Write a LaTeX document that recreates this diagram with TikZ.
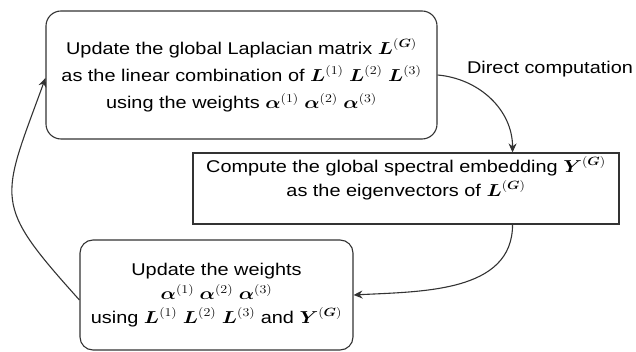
\documentclass[tikz,border=0pt]{standalone}
\usepackage{amsmath}
\usepackage{graphicx}
\usepackage{fontspec}
\setmainfont{Liberation Sans}
\DeclareMathSizes{17}{17}{13}{10}
\usetikzlibrary{arrows.meta,calc}
\newcommand{\bL}{\boldsymbol{L}}
\newcommand{\bY}{\boldsymbol{Y}}
\newcommand{\bal}{\boldsymbol{\alpha}}
\newcommand{\bG}{\boldsymbol{G}}
\newcommand{\wl}[1]{\scalebox{1.17}[1]{#1}}
\begin{document}
\begin{tikzpicture}[x=1pt,y=1pt,
  font=\fontsize{17}{24}\selectfont,
  roundbox/.style={draw=black!80, line width=1.1pt, rounded corners=15pt, align=center, inner sep=0pt},
  sqbox/.style={draw=black!80, line width=1.1pt, align=center, inner sep=0pt},
  conn/.style={draw=black!80, line width=1.1pt, -{Stealth[length=9pt,width=8pt]}}]
\useasboundingbox (0,0) rectangle (636,-352);
\node[roundbox, minimum width=391pt, minimum height=128pt] (b1) at (241.5,-75)
  {\wl{Update the global Laplacian matrix $\bL^{(\bG)}$}\\[3pt]
   \wl{as the linear combination of $\bL^{(1)}\ \bL^{(2)}\ \bL^{(3)}$}\\[3pt]
   \wl{using the weights $\bal^{(1)}\ \bal^{(2)}\ \bal^{(3)}$}};
\node[sqbox, minimum width=426pt, minimum height=71pt] (b2) at (406,-188.5)
  {\wl{Compute the global spectral embedding $\bY^{(\bG)}$}\\
   \wl{as the eigenvectors of $\bL^{(\bG)}$}\\ \mbox{}};
\node[roundbox, rounded corners=13pt, minimum width=273pt, minimum height=110pt] (b3) at (216.5,-295)
  {\wl{Update the weights}\\
   \wl{$\bal^{(1)}\ \bal^{(2)}\ \bal^{(3)}$}\\
   \wl{using $\bL^{(1)}\ \bL^{(2)}\ \bL^{(3)}$ and $\bY^{(\bG)}$}};
\node (lbl) at (550,-69) {\wl{Direct computation}};
\path[conn] (b1.east) to[out=-5,in=90] ([xshift=-107pt]b2.north east);
\path[conn] ([xshift=-107pt]b2.south east) to[out=-90,in=3] (b3.east);
\path[conn] ([yshift=-5pt]b3.west) to[out=132,in=-110,looseness=1.5] ([yshift=-3pt]b1.west);
\end{tikzpicture}
\end{document}
